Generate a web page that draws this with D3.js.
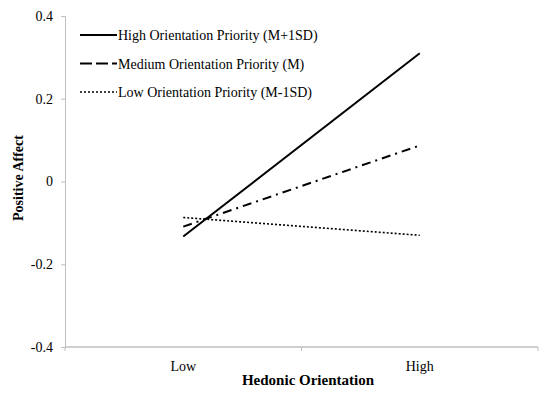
<!DOCTYPE html>
<html>
<head>
<meta charset="utf-8">
<script src="https://cdn.jsdelivr.net/npm/d3@7"></script>
<style>
  body { margin: 0; background: #fff; }
  text { font-family: "Liberation Serif", "DejaVu Serif", serif; fill: #000; }
</style>
</head>
<body>
<svg id="chart" width="550" height="396"></svg>
<script>
var categories = ['Low', 'High'];
var yTicks = [-0.4, -0.2, 0, 0.2, 0.4];
var seriesNames = ['High Orientation Priority (M+1SD)', 'Medium Orientation Priority (M)', 'Low Orientation Priority (M-1SD)'];
var highValues = [-0.133, 0.31];
var mediumValues = [-0.109, 0.087];
var lowValues = [-0.087, -0.13];

var series = [
  {name: seriesNames[0], values: highValues, dash: null, legendDash: null, width: 2},
  {name: seriesNames[1], values: mediumValues, dash: '9,5,2,5', legendDash: '12,4', width: 2},
  {name: seriesNames[2], values: lowValues, dash: '2,2', legendDash: '2,2', width: 1.6}
];

var svg = d3.select('#chart');
var margin = {left: 65, right: 12, top: 16, bottom: 49};
var width = 550 - margin.left - margin.right;
var height = 396 - margin.top - margin.bottom;

var x = d3.scaleBand().domain(categories).range([0, width]);
var y = d3.scaleLinear().domain([-0.4, 0.4]).range([height, 0]);

var g = svg.append('g')
  .attr('transform', 'translate(' + margin.left + ',' + margin.top + ')');

// y axis (plain hyphen for negatives, like the original)
var yAxis = g.append('g')
  .call(d3.axisLeft(y).tickValues(yTicks).tickSize(4).tickPadding(8)
    .tickFormat(function(d){ return d === 0 ? '0' : d3.format('.1f')(d).replace('\u2212', '-'); }));
yAxis.select('.domain').attr('stroke', '#bfbfbf');
yAxis.selectAll('.tick line').attr('stroke', '#bfbfbf');
yAxis.selectAll('.tick text').style('font-size', '14px');

// x axis, ticks on band boundaries
var xAxis = g.append('g')
  .attr('transform', 'translate(0,' + height + ')');
xAxis.append('line')
  .attr('x1', 0).attr('x2', width)
  .attr('stroke', '#bfbfbf').attr('stroke-width', 1.5);
xAxis.selectAll('.xtick')
  .data([0, x.bandwidth(), width])
  .enter().append('line')
  .attr('x1', function(d){ return d; })
  .attr('x2', function(d){ return d; })
  .attr('y1', 0).attr('y2', 4)
  .attr('stroke', '#bfbfbf');
xAxis.selectAll('.xlabel')
  .data(categories)
  .enter().append('text')
  .attr('x', function(d){ return x(d) + x.bandwidth() / 2; })
  .attr('y', 24)
  .attr('text-anchor', 'middle')
  .style('font-size', '14px')
  .text(function(d){ return d; });

// lines
var line = d3.line()
  .x(function(d, i){ return x(categories[i]) + x.bandwidth() / 2; })
  .y(function(d){ return y(d); });

g.selectAll('.series')
  .data(series)
  .enter().append('path')
  .attr('d', function(d){ return line(d.values); })
  .attr('fill', 'none')
  .attr('stroke', '#000')
  .attr('stroke-width', function(d){ return d.width; })
  .attr('stroke-dasharray', function(d){ return d.dash; });

// legend
var legend = svg.append('g').attr('transform', 'translate(80,35)');
var rows = legend.selectAll('.row')
  .data(series)
  .enter().append('g')
  .attr('transform', function(d, i){ return 'translate(0,' + (i * 28.5) + ')'; });
rows.append('line')
  .attr('x1', 0).attr('x2', 37)
  .attr('stroke', '#000')
  .attr('stroke-width', function(d){ return d.width; })
  .attr('stroke-dasharray', function(d){ return d.legendDash; });
rows.append('text')
  .attr('x', 38).attr('y', 5)
  .style('font-size', '14px')
  .text(function(d){ return d.name; });

// axis titles
svg.append('text')
  .attr('x', 308).attr('y', 385)
  .attr('text-anchor', 'middle')
  .style('font-size', '15px').style('font-weight', 'bold')
  .text('Hedonic Orientation');

svg.append('text')
  .attr('transform', 'translate(23,178) rotate(-90)')
  .attr('text-anchor', 'middle')
  .style('font-size', '14px').style('font-weight', 'bold')
  .text('Positive Affect');
</script>
</body>
</html>
